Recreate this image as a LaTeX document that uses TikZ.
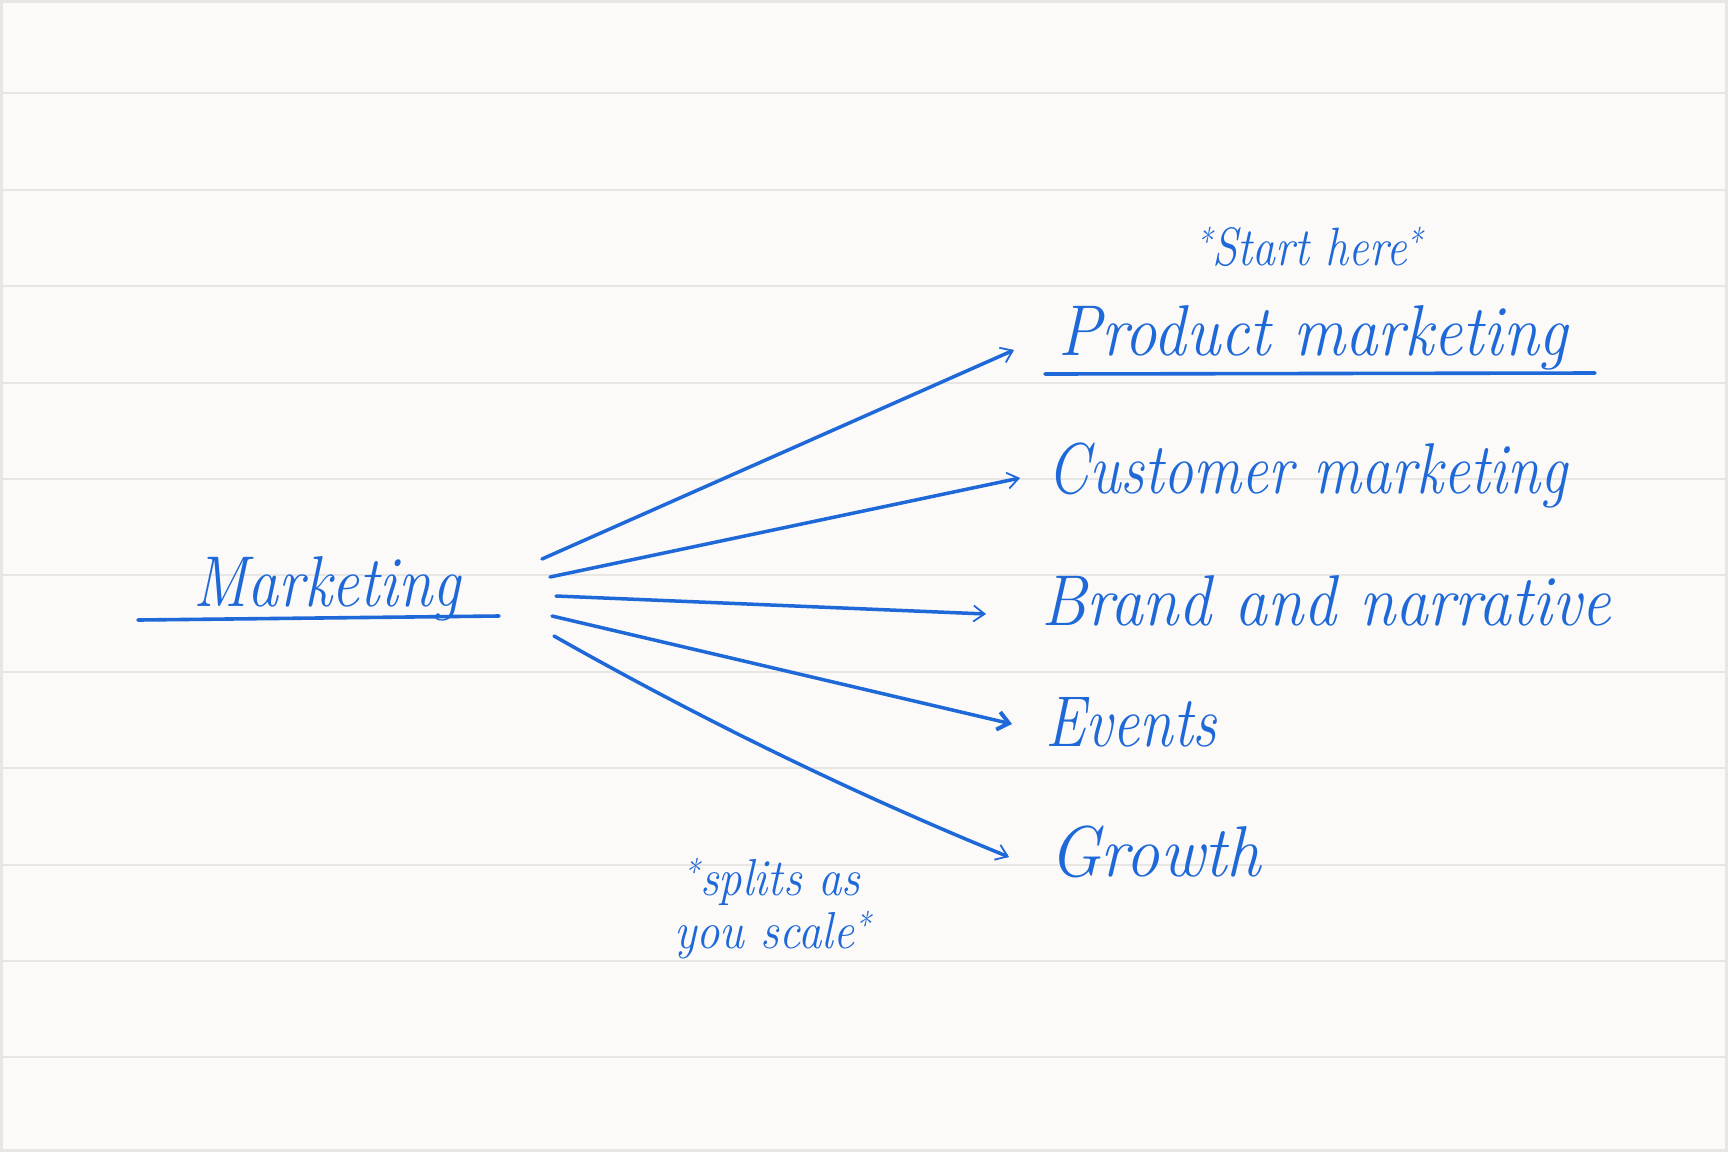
\documentclass[tikz,border=0pt]{standalone}
\usetikzlibrary{arrows.meta}
\definecolor{ink}{RGB}{30,104,216}
\definecolor{paper}{RGB}{251,250,248}
\definecolor{rule}{RGB}{232,230,227}
\newcommand{\hw}[3]{\scalebox{#1}[1]{\fontsize{#2}{#2}\selectfont\itshape #3}}
\begin{document}
\begin{tikzpicture}[x=1pt,y=-1pt,
  label/.style={text=ink, inner sep=0pt, anchor=base west},
  branch/.style={draw=ink, line width=3.5pt, line cap=round, -{Straight Barb[length=11pt,width=16pt,line width=1.8pt]}},
  boldbranch/.style={branch, -{Straight Barb[length=11pt,width=18pt,line width=4pt]}},
  uline/.style={draw=ink, line width=3.6pt, line cap=round}]
\fill[paper] (0,0) rectangle (1728,1152);
\draw[rule, line width=3pt] (1.5,1.5) rectangle (1726.5,1150.5);
\foreach \k in {0,...,10} {
  \draw[rule, line width=2pt] (3,93.3+96.4*\k) -- (1725,93.3+96.4*\k);
}
% nodes
\node[label] (mk) at (193,606) {\hw{0.86}{72}{Marketing}};
\node[label] (sh) at (1196,265) {\hw{0.85}{54}{\textsuperscript{*}Start here\textsuperscript{*}}};
\node[label] (pm) at (1058,355) {\hw{0.90}{72}{Product marketing}};
\node[label] (cm) at (1047,493) {\hw{0.83}{72}{Customer marketing}};
\node[label] (bn) at (1041,625) {\hw{0.91}{72}{Brand and narrative}};
\node[label] (ev) at (1045,746) {\hw{0.84}{72}{Events}};
\node[label] (gr) at (1049,876) {\hw{0.95}{72}{Growth}};
\node[label] (sp1) at (683,895) {\hw{0.9}{52}{\textsuperscript{*}splits as}};
\node[label] (sp2) at (674,948) {\hw{0.9}{52}{you scale\textsuperscript{*}}};
% underlines
\coordinate (mu1) at (138,620); \coordinate (mu2) at (499,616);
\draw[uline] (mu1) -- (mu2);
\coordinate (pu1) at (1045,374); \coordinate (pu2) at (1595,373);
\draw[uline] (pu1) -- (pu2);
% fan origins
\coordinate (s1) at (542,559);
\coordinate (s2) at (550,577);
\coordinate (s3) at (556,596);
\coordinate (s4) at (552,616);
\coordinate (s5) at (554,636);
\draw[branch] (s1) -- ([xshift=-44pt,yshift=5pt]pm.base west);
\draw[branch] (s2) -- ([xshift=-27pt,yshift=15pt]cm.base west);
\draw[branch] (s3) -- ([xshift=-55pt,yshift=11pt]bn.base west);
\draw[boldbranch] (s4) -- ([xshift=-33pt,yshift=22pt]ev.base west);
\draw[branch] (s5) .. controls (706,722) and (857,795) .. ([xshift=-40pt,yshift=19pt]gr.base west);
\end{tikzpicture}
\end{document}
